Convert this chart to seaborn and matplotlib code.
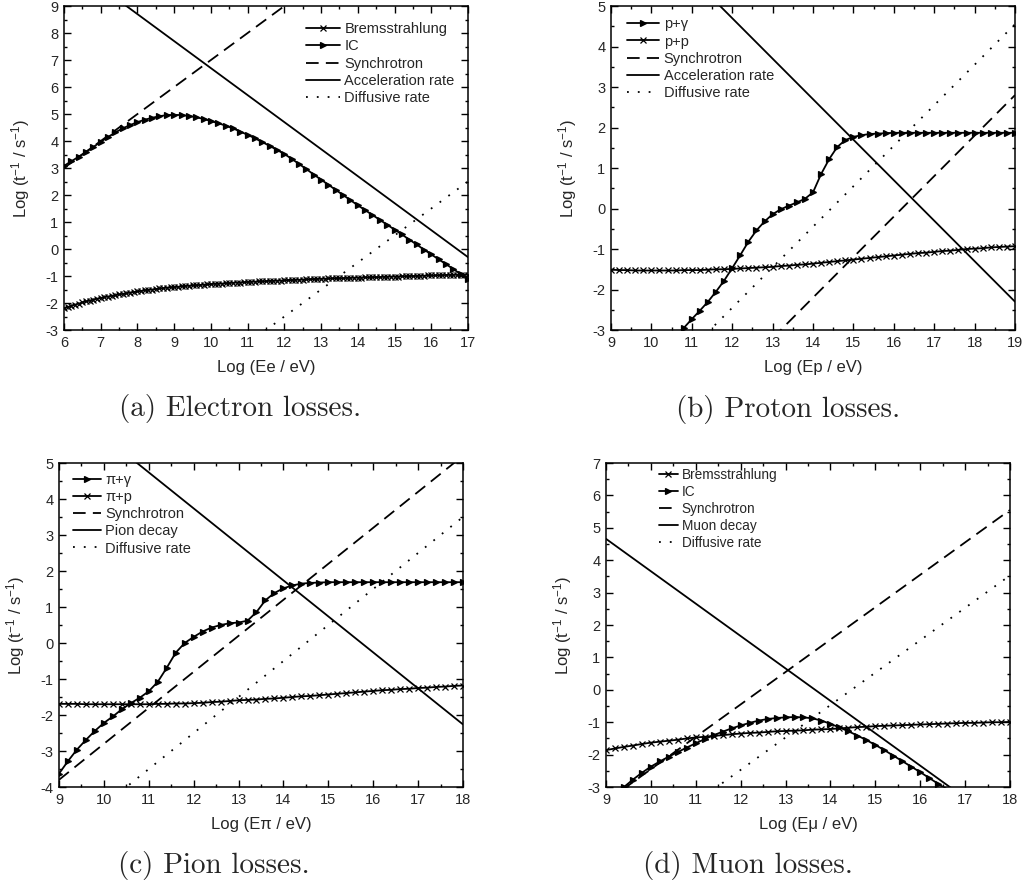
import numpy as np
import matplotlib.pyplot as plt
import seaborn as sns
from matplotlib.ticker import MultipleLocator

# ---- (a) electron losses ----
e_x_brems = np.round(np.arange(6.0, 17.01, 0.1), 1)
e_brems = [-2.20, -2.15, -2.10, -2.06, -2.02, -1.98, -1.94, -1.91, -1.87, -1.84,
           -1.81, -1.78, -1.76, -1.73, -1.71, -1.68, -1.66, -1.64, -1.61, -1.59,
           -1.57, -1.55, -1.53, -1.51, -1.50, -1.48, -1.46, -1.45, -1.43, -1.42,
           -1.41, -1.40, -1.38, -1.37, -1.36, -1.35, -1.34, -1.33, -1.32, -1.31,
           -1.30, -1.29, -1.28, -1.28, -1.27, -1.26, -1.25, -1.24, -1.24, -1.23,
           -1.22, -1.21, -1.21, -1.20, -1.20, -1.19, -1.18, -1.18, -1.17, -1.17,
           -1.16, -1.15, -1.15, -1.14, -1.14, -1.13, -1.12, -1.12, -1.11, -1.11,
           -1.10, -1.10, -1.09, -1.09, -1.08, -1.08, -1.08, -1.07, -1.07, -1.06,
           -1.06, -1.06, -1.05, -1.05, -1.04, -1.04, -1.04, -1.03, -1.03, -1.02,
           -1.02, -1.02, -1.01, -1.01, -1.00, -1.00, -1.00, -0.99, -0.99, -0.98,
           -0.98, -0.98, -0.97, -0.97, -0.96, -0.96, -0.96, -0.95, -0.95, -0.95,
           -0.95]
e_x_ic = np.round(np.arange(6.0, 17.01, 0.2), 1)
e_ic = [3.08, 3.25, 3.42, 3.60, 3.78, 3.97, 4.15, 4.32, 4.47, 4.59,
        4.70, 4.79, 4.86, 4.92, 4.96, 4.97, 4.96, 4.93, 4.88, 4.82,
        4.74, 4.66, 4.57, 4.47, 4.35, 4.23, 4.10, 3.96, 3.82, 3.67,
        3.52, 3.34, 3.15, 2.96, 2.76, 2.57, 2.38, 2.19, 2.00, 1.81,
        1.62, 1.44, 1.26, 1.08, 0.90, 0.72, 0.54, 0.35, 0.17, -0.02,
        -0.20, -0.38, -0.56, -0.74, -0.93, -1.12]
e_x_lines = [6, 17]
e_synch = [3.0, 14.0]
e_accel = [10.7, -0.3]
e_x_diff = [11, 17]
e_diff = [-3.5, 2.5]

# ---- (b) proton losses ----
p_x_pg = np.round(np.arange(10.6, 19.01, 0.2), 1)
p_pg = [-3.15, -2.95, -2.73, -2.52, -2.30, -2.05, -1.78, -1.47, -1.15, -0.82,
        -0.54, -0.32, -0.14, -0.02, 0.07, 0.15, 0.24, 0.40, 0.85, 1.22,
        1.52, 1.69, 1.77, 1.81, 1.84, 1.85, 1.86, 1.87, 1.87, 1.87,
        1.87, 1.87, 1.87, 1.87, 1.87, 1.87, 1.87, 1.87, 1.87, 1.87,
        1.87, 1.87, 1.87]
p_x_pp = np.round(np.arange(9.0, 19.01, 0.2), 1)
p_pp = [-1.51, -1.52, -1.52, -1.53, -1.53, -1.53, -1.53, -1.53, -1.53, -1.52,
        -1.52, -1.52, -1.51, -1.50, -1.50, -1.49, -1.48, -1.47, -1.46, -1.45,
        -1.44, -1.42, -1.41, -1.39, -1.38, -1.36, -1.34, -1.32, -1.30, -1.28,
        -1.26, -1.24, -1.22, -1.20, -1.18, -1.16, -1.14, -1.12, -1.10, -1.09,
        -1.07, -1.05, -1.04, -1.02, -1.00, -0.99, -0.98, -0.96, -0.95, -0.94,
        -0.93]
p_x_accel = [9, 19]
p_accel = [7.7, -2.3]
p_x_synch = [13, 19]
p_synch = [-3.2, 2.8]
p_x_diff = [11, 19]
p_diff = [-3.45, 4.55]

# ---- (c) pion losses ----
pi_x = np.round(np.arange(9.0, 18.01, 0.2), 1)
pi_pg = [-3.63, -3.28, -2.96, -2.69, -2.44, -2.22, -2.04, -1.84, -1.67, -1.52,
         -1.34, -1.08, -0.69, -0.27, 0.00, 0.17, 0.32, 0.43, 0.50, 0.55,
         0.57, 0.62, 0.86, 1.19, 1.39, 1.52, 1.60, 1.65, 1.67, 1.68,
         1.69, 1.69, 1.69, 1.69, 1.69, 1.69, 1.69, 1.69, 1.69, 1.69,
         1.69, 1.69, 1.69, 1.69, 1.69, 1.69]
pi_pp = [-1.69, -1.69, -1.69, -1.70, -1.70, -1.70, -1.70, -1.70, -1.70, -1.70,
         -1.70, -1.69, -1.69, -1.68, -1.68, -1.67, -1.66, -1.64, -1.63, -1.61,
         -1.59, -1.58, -1.57, -1.55, -1.54, -1.52, -1.50, -1.48, -1.47, -1.45,
         -1.43, -1.41, -1.39, -1.37, -1.35, -1.33, -1.31, -1.30, -1.28, -1.27,
         -1.25, -1.24, -1.22, -1.21, -1.19, -1.18]
pi_x_lines = [9, 18]
pi_synch = [-3.8, 5.2]
pi_decay = [6.74, -2.26]
pi_x_diff = [10, 18]
pi_diff = [-4.5, 3.5]

# ---- (d) muon losses ----
mu_x_brems = np.round(np.arange(9.0, 18.01, 0.2), 1)
mu_brems = [-1.86, -1.81, -1.76, -1.72, -1.67, -1.63, -1.60, -1.57, -1.54, -1.50,
            -1.47, -1.45, -1.42, -1.40, -1.37, -1.35, -1.33, -1.32, -1.30, -1.28,
            -1.27, -1.26, -1.25, -1.23, -1.22, -1.21, -1.19, -1.17, -1.15, -1.14,
            -1.12, -1.11, -1.10, -1.09, -1.08, -1.07, -1.06, -1.05, -1.04, -1.03,
            -1.02, -1.02, -1.01, -1.00, -1.00, -0.99]
mu_x_ic = np.round(np.arange(9.2, 16.61, 0.2), 1)
mu_ic = [-3.22, -3.00, -2.77, -2.56, -2.37, -2.21, -2.06, -1.92, -1.78, -1.65,
         -1.52, -1.40, -1.29, -1.19, -1.10, -1.02, -0.95, -0.90, -0.87, -0.85,
         -0.84, -0.85, -0.88, -0.95, -1.05, -1.16, -1.28, -1.41, -1.55, -1.70,
         -1.86, -2.03, -2.20, -2.37, -2.54, -2.72, -2.90, -3.08]
mu_x_lines = [9, 18]
mu_synch = [-3.45, 5.55]
mu_decay = [4.66, -4.34]
mu_x_diff = [11, 18]
mu_diff = [-3.47, 3.53]

sns.set_theme(style="ticks")
plt.rcParams['font.family'] = ['Liberation Sans', 'DejaVu Sans']
plt.rcParams['mathtext.default'] = 'regular'
plt.rcParams['axes.unicode_minus'] = False

DASH = (0, (7, 4))
DOT = (0, (1, 5))


def curve(ax, x, y, label, ls='-', marker=None, ms=4, mew=0.9):
    sns.lineplot(x=x, y=y, ax=ax, color='black', linewidth=1.3, linestyle=ls,
                 marker=marker, markersize=ms, markeredgewidth=mew,
                 markeredgecolor='black', markerfacecolor='black',
                 label=label, sort=False, estimator=None, legend=False)


def style_axes(ax, xlim, ylim, xlabel, leg_anchor, leg_size, handlelen):
    ax.set_xlim(*xlim)
    ax.set_ylim(*ylim)
    ax.xaxis.set_major_locator(MultipleLocator(1))
    ax.xaxis.set_minor_locator(MultipleLocator(0.5))
    ax.yaxis.set_major_locator(MultipleLocator(1))
    ax.yaxis.set_minor_locator(MultipleLocator(0.5))
    ax.tick_params(which='both', direction='in', top=True, right=True,
                   width=1.0, color='black', labelsize=10.5, pad=4)
    ax.tick_params(which='major', length=5)
    ax.tick_params(which='minor', length=2.5)
    for s in ax.spines.values():
        s.set_linewidth(1.1)
        s.set_color('black')
    ax.set_xlabel(xlabel, fontsize=12)
    ax.set_ylabel('Log (t$^{-1}$ / s$^{-1}$)', fontsize=12)
    ax.xaxis.set_label_coords(0.5, -0.093)
    ax.yaxis.set_label_coords(-0.08, 0.5)
    ax.legend(loc='upper left', bbox_to_anchor=leg_anchor, frameon=False,
              fontsize=leg_size, borderpad=0, labelspacing=0.22,
              handlelength=handlelen, handletextpad=0.3, borderaxespad=0)


fig = plt.figure(figsize=(10.24, 8.86), dpi=100)
ax_a = fig.add_axes([0.0625, 0.6275, 0.3945, 0.3657])
ax_b = fig.add_axes([0.5967, 0.6275, 0.3945, 0.3657])
ax_c = fig.add_axes([0.0576, 0.1117, 0.3945, 0.3657])
ax_d = fig.add_axes([0.5918, 0.1117, 0.3945, 0.3657])

# (a)
curve(ax_a, e_x_brems, e_brems, 'Bremsstrahlung', marker='x', ms=3.8)
curve(ax_a, e_x_ic, e_ic, 'IC', marker='>')
curve(ax_a, e_x_lines, e_synch, 'Synchrotron', ls=DASH)
curve(ax_a, e_x_lines, e_accel, 'Acceleration rate')
curve(ax_a, e_x_diff, e_diff, 'Diffusive rate', ls=DOT)
style_axes(ax_a, (6, 17), (-3, 9), 'Log (Ee / eV)', (0.60, 0.95), 10.5, 2.3)

# (b)
curve(ax_b, p_x_pg, p_pg, 'p+γ', marker='>')
curve(ax_b, p_x_pp, p_pp, 'p+p', marker='x', ms=3.8)
curve(ax_b, p_x_synch, p_synch, 'Synchrotron', ls=DASH)
curve(ax_b, p_x_accel, p_accel, 'Acceleration rate')
curve(ax_b, p_x_diff, p_diff, 'Diffusive rate', ls=DOT)
style_axes(ax_b, (9, 19), (-3, 5), 'Log (Ep / eV)', (0.04, 0.965), 10.5, 2.2)

# (c)
curve(ax_c, pi_x, pi_pg, 'π+γ', marker='>')
curve(ax_c, pi_x, pi_pp, 'π+p', marker='x', ms=3.8)
curve(ax_c, pi_x_lines, pi_synch, 'Synchrotron', ls=DASH)
curve(ax_c, pi_x_lines, pi_decay, 'Pion decay')
curve(ax_c, pi_x_diff, pi_diff, 'Diffusive rate', ls=DOT)
style_axes(ax_c, (9, 18), (-4, 5), 'Log (Eπ / eV)', (0.035, 0.97), 10.5, 1.9)

# (d)
curve(ax_d, mu_x_brems, mu_brems, 'Bremsstrahlung', marker='x', ms=3.8)
curve(ax_d, mu_x_ic, mu_ic, 'IC', marker='>')
curve(ax_d, mu_x_lines, mu_synch, 'Synchrotron', ls=DASH)
curve(ax_d, mu_x_lines, mu_decay, 'Muon decay')
curve(ax_d, mu_x_diff, mu_diff, 'Diffusive rate', ls=DOT)
style_axes(ax_d, (9, 18), (-3, 7), 'Log (Eμ / eV)', (0.13, 0.985), 9.8, 1.4)

# subfigure captions
cap = dict(fontsize=21, family='cmr10', ha='center', va='center')
fig.text(240 / 1024, 1 - 408 / 886, '(a) Electron losses.', **cap)
fig.text(788 / 1024, 1 - 410 / 886, '(b) Proton losses.', **cap)
fig.text(214 / 1024, 1 - 865 / 886, '(c) Pion losses.', **cap)
fig.text(748 / 1024, 1 - 865 / 886, '(d) Muon losses.', **cap)

fig.savefig('out.png', dpi=100)
